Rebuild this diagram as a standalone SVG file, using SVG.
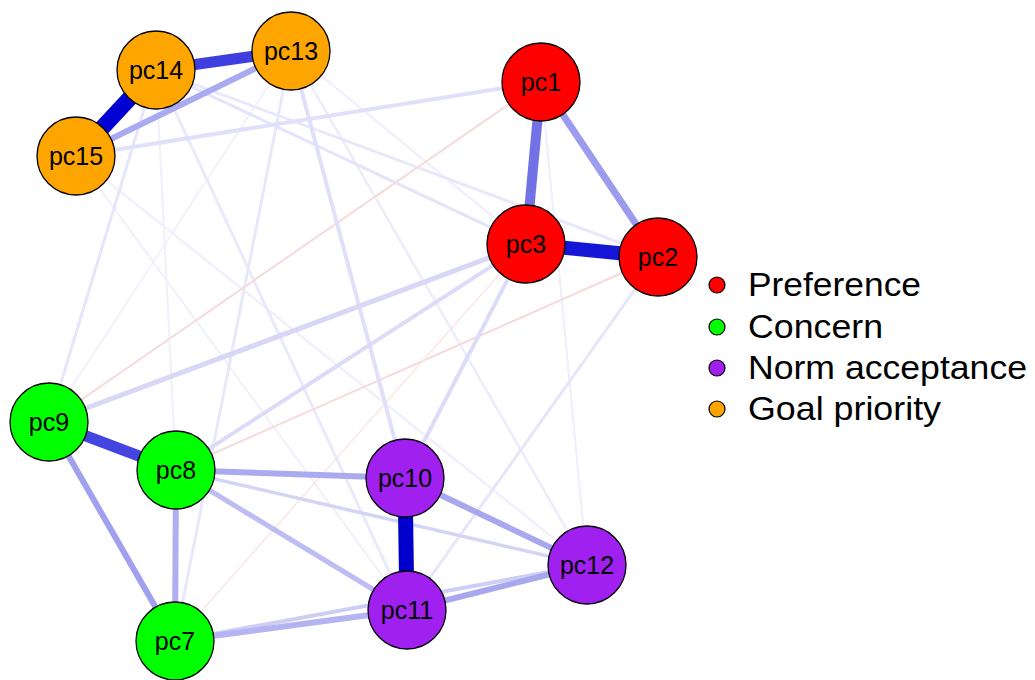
<svg xmlns="http://www.w3.org/2000/svg" width="1035" height="680" viewBox="0 0 1035 680">
<style>
.n circle{stroke:#000;stroke-width:1.3}
.n text{font-family:"Liberation Sans",Arial,sans-serif;font-size:25px;text-anchor:middle;fill:#000}
.lg text{font-family:"Liberation Sans",Arial,sans-serif;font-size:33px;fill:#000}
.lg circle{stroke:#000;stroke-width:1.2}
.e line{stroke-linecap:butt;fill:none}
.pref{fill:#FF0000}.conc{fill:#00FF00}.norm{fill:#A020F0}.goal{fill:#FFA500}
</style>
<rect width="1035" height="680" fill="#fff"/>
<g id="edges" class="e">
<line x1="291" y1="51" x2="49" y2="422" stroke="#F2F2FD" stroke-width="2"/>
<line x1="156" y1="70" x2="176" y2="470" stroke="#F0F0FC" stroke-width="2"/>
<line x1="76" y1="156" x2="407" y2="610" stroke="#F0F0FC" stroke-width="2"/>
<line x1="76" y1="156" x2="587" y2="565" stroke="#EEEEFC" stroke-width="2"/>
<line x1="541" y1="82" x2="587" y2="565" stroke="#EEEEFC" stroke-width="2"/>
<line x1="291" y1="51" x2="526" y2="244" stroke="#EEEEFC" stroke-width="2"/>
<line x1="291" y1="51" x2="587" y2="565" stroke="#ECECFB" stroke-width="2.5"/>
<line x1="156" y1="70" x2="658" y2="257" stroke="#E8E8FB" stroke-width="3"/>
<line x1="156" y1="70" x2="526" y2="244" stroke="#E4E4FA" stroke-width="3"/>
<line x1="156" y1="70" x2="407" y2="610" stroke="#EAEAFB" stroke-width="3"/>
<line x1="291" y1="51" x2="175" y2="641" stroke="#E8E8FB" stroke-width="3"/>
<line x1="156" y1="70" x2="49" y2="422" stroke="#E6E6FA" stroke-width="3"/>
<line x1="658" y1="257" x2="407" y2="610" stroke="#E6E6FA" stroke-width="3"/>
<line x1="541" y1="82" x2="49" y2="422" stroke="#F6DADA" stroke-width="2"/>
<line x1="658" y1="257" x2="176" y2="470" stroke="#F6DADA" stroke-width="2"/>
<line x1="526" y1="244" x2="175" y2="641" stroke="#F9E6E6" stroke-width="1.5"/>
<line x1="76" y1="156" x2="541" y2="82" stroke="#E0E0FA" stroke-width="4"/>
<line x1="291" y1="51" x2="405" y2="478" stroke="#E0E0FA" stroke-width="4"/>
<line x1="526" y1="244" x2="405" y2="478" stroke="#DCDCF8" stroke-width="4"/>
<line x1="526" y1="244" x2="176" y2="470" stroke="#DCDCF8" stroke-width="4"/>
<line x1="526" y1="244" x2="49" y2="422" stroke="#D8D8F6" stroke-width="5"/>
<line x1="176" y1="470" x2="587" y2="565" stroke="#D4D4F5" stroke-width="3.5"/>
<line x1="175" y1="641" x2="587" y2="565" stroke="#CDCDF6" stroke-width="4"/>
<line x1="175" y1="641" x2="407" y2="610" stroke="#B4B4F2" stroke-width="6"/>
<line x1="407" y1="610" x2="587" y2="565" stroke="#A8A8EE" stroke-width="6"/>
<line x1="405" y1="478" x2="587" y2="565" stroke="#A8A8EE" stroke-width="6"/>
<line x1="176" y1="470" x2="407" y2="610" stroke="#BDBDF3" stroke-width="5"/>
<line x1="176" y1="470" x2="405" y2="478" stroke="#AAAAEE" stroke-width="6"/>
<line x1="176" y1="470" x2="175" y2="641" stroke="#AEAEF0" stroke-width="6"/>
<line x1="49" y1="422" x2="175" y2="641" stroke="#A0A0EE" stroke-width="6"/>
<line x1="49" y1="422" x2="176" y2="470" stroke="#4444E0" stroke-width="11"/>
<line x1="405" y1="478" x2="407" y2="610" stroke="#0000CC" stroke-width="15"/>
<line x1="541" y1="82" x2="658" y2="257" stroke="#9C9CEE" stroke-width="7"/>
<line x1="541" y1="82" x2="526" y2="244" stroke="#7272E6" stroke-width="10"/>
<line x1="526" y1="244" x2="658" y2="257" stroke="#1515D8" stroke-width="14"/>
<line x1="291" y1="51" x2="76" y2="156" stroke="#AAAAF0" stroke-width="6"/>
<line x1="291" y1="51" x2="156" y2="70" stroke="#3F3FE0" stroke-width="11"/>
<line x1="156" y1="70" x2="76" y2="156" stroke="#0000D2" stroke-width="16"/>
</g>
<g id="pc1" class="n"><circle cx="541" cy="82" r="39" class="pref"/><text x="541" y="91">pc1</text></g>
<g id="pc2" class="n"><circle cx="658" cy="257" r="39" class="pref"/><text x="658" y="266">pc2</text></g>
<g id="pc3" class="n"><circle cx="526" cy="244" r="39" class="pref"/><text x="526" y="253">pc3</text></g>
<g id="pc13" class="n"><circle cx="291" cy="51" r="39" class="goal"/><text x="291" y="60">pc13</text></g>
<g id="pc14" class="n"><circle cx="156" cy="70" r="39" class="goal"/><text x="156" y="79">pc14</text></g>
<g id="pc15" class="n"><circle cx="76" cy="156" r="39" class="goal"/><text x="76" y="165">pc15</text></g>
<g id="pc9" class="n"><circle cx="49" cy="422" r="39" class="conc"/><text x="49" y="431">pc9</text></g>
<g id="pc8" class="n"><circle cx="176" cy="470" r="39" class="conc"/><text x="176" y="479">pc8</text></g>
<g id="pc7" class="n"><circle cx="175" cy="641" r="39" class="conc"/><text x="175" y="650">pc7</text></g>
<g id="pc10" class="n"><circle cx="405" cy="478" r="39" class="norm"/><text x="405" y="487">pc10</text></g>
<g id="pc11" class="n"><circle cx="407" cy="610" r="39" class="norm"/><text x="407" y="619">pc11</text></g>
<g id="pc12" class="n"><circle cx="587" cy="565" r="39" class="norm"/><text x="587" y="574">pc12</text></g>
<g id="legend" class="lg">
<circle cx="717" cy="285" r="8" class="pref"/><text x="748" y="296" textLength="173" lengthAdjust="spacingAndGlyphs">Preference</text>
<circle cx="717" cy="327" r="8" class="conc"/><text x="748" y="338" textLength="135" lengthAdjust="spacingAndGlyphs">Concern</text>
<circle cx="717" cy="368" r="8" class="norm"/><text x="748" y="379" textLength="279" lengthAdjust="spacingAndGlyphs">Norm acceptance</text>
<circle cx="717" cy="409" r="8" class="goal"/><text x="748" y="420" textLength="193" lengthAdjust="spacingAndGlyphs">Goal priority</text>
</g>
</svg>
